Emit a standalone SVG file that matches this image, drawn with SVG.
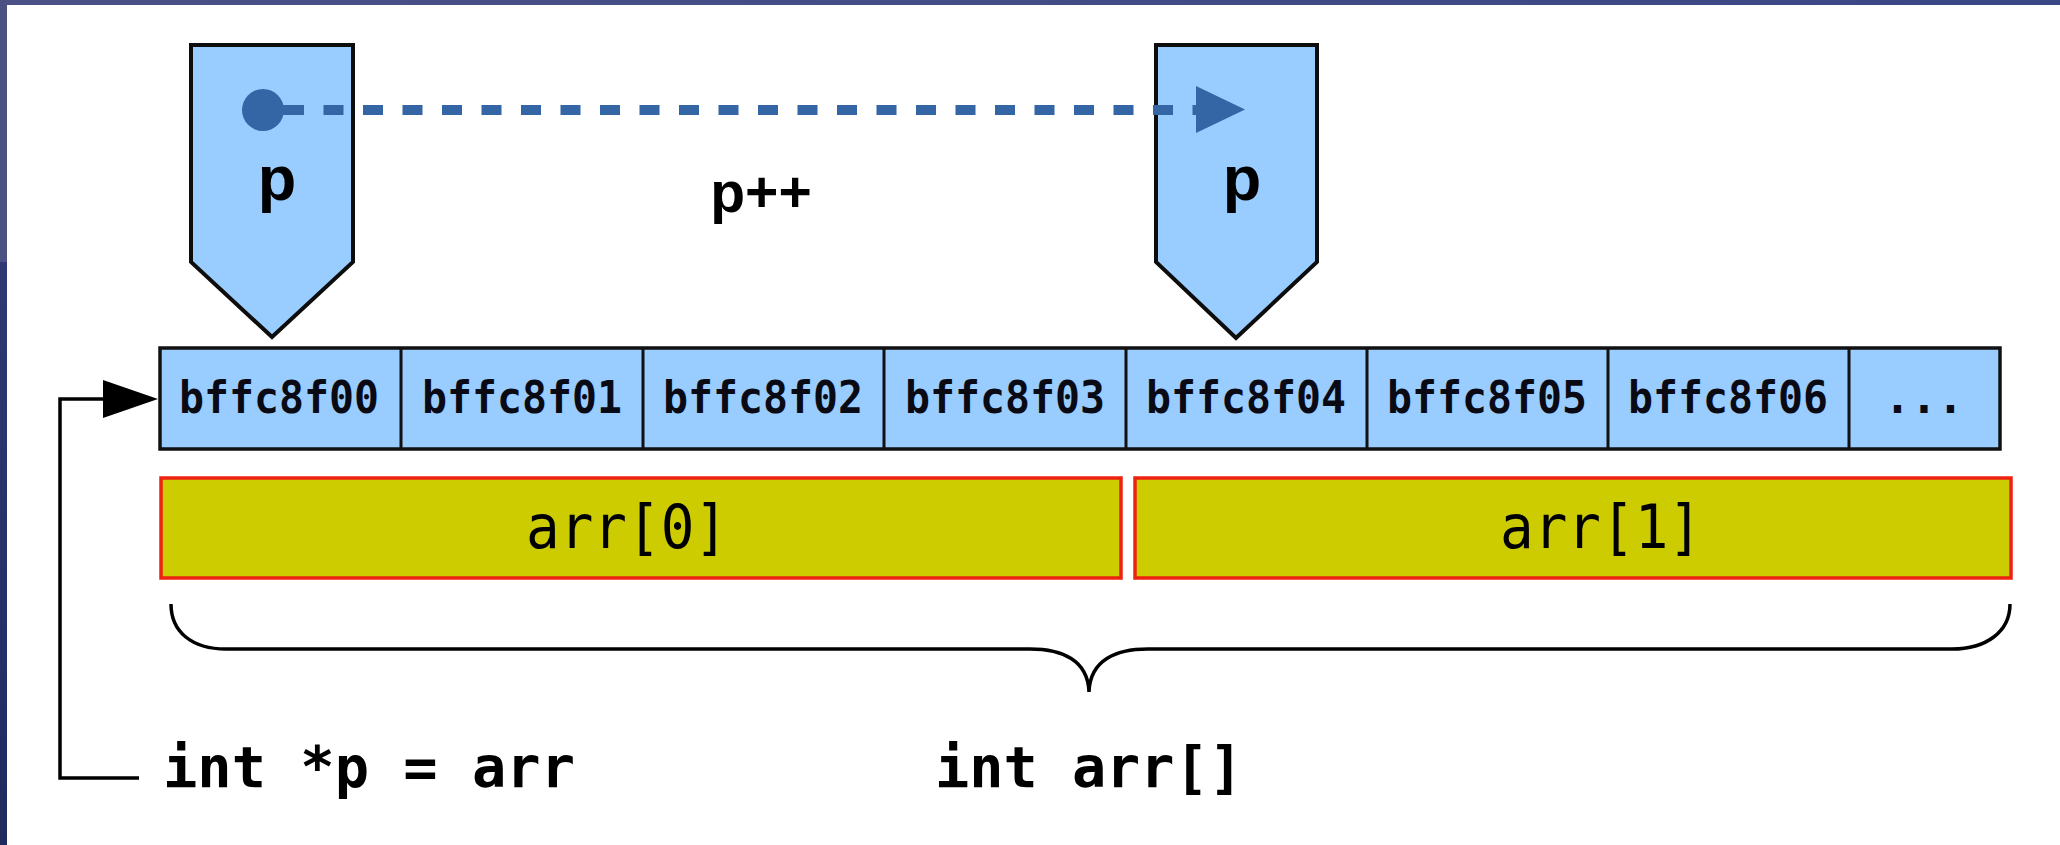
<svg xmlns="http://www.w3.org/2000/svg" width="2060" height="845" viewBox="0 0 2060 845">
  <defs>
    <linearGradient id="topStrip" x1="0" y1="0" x2="1" y2="0">
      <stop offset="0" stop-color="#4b5186"/>
      <stop offset="1" stop-color="#394785"/>
    </linearGradient>
    <linearGradient id="leftLow" x1="0" y1="0" x2="0" y2="1">
      <stop offset="0" stop-color="#2e3873"/>
      <stop offset="1" stop-color="#212a5f"/>
    </linearGradient>
    <marker id="blueHead" markerUnits="userSpaceOnUse" markerWidth="50" markerHeight="50" refX="0" refY="24" orient="auto" viewBox="0 0 50 48">
      <polygon points="0,0 49,23.5 0,47" fill="#3465a4"/>
    </marker>
    <marker id="blackHead" markerUnits="userSpaceOnUse" markerWidth="56" markerHeight="40" refX="0" refY="19" orient="auto" viewBox="0 0 56 38">
      <polygon points="0,0 55,19 0,38" fill="#000"/>
    </marker>
  </defs>
  <style>
    .ptr { fill: #99ccff; stroke: #0d0d0d; stroke-width: 4; stroke-linejoin: miter; }
    .ptrText { font-family: "Liberation Sans", Arial, sans-serif; font-weight: bold; fill: #000; text-anchor: middle; }
    .row { fill: #99ccff; stroke: #111; stroke-width: 3.5; }
    .div { stroke: #111; stroke-width: 3; }
    .addr { font-family: "DejaVu Sans Mono", monospace; font-weight: bold; font-size: 44px; fill: #0a0a14; text-anchor: middle; }
    .elem { fill: #cccc00; stroke: #ee2211; stroke-width: 3.5; }
    .elemText { font-family: "DejaVu Sans Mono", monospace; font-size: 60px; fill: #000; text-anchor: middle; }
    .code { font-family: "DejaVu Sans Mono", monospace; font-weight: bold; font-size: 57px; fill: #000; }
    .line { fill: none; stroke: #000; stroke-width: 3.5; }
  </style>

  <!-- slide background -->
  <rect x="0" y="0" width="2060" height="845" fill="#ffffff"/>
  <rect x="0" y="0" width="2060" height="5" fill="url(#topStrip)"/>
  <rect x="0" y="0" width="7" height="262" fill="#4c5183"/>
  <rect x="0" y="262" width="7" height="583" fill="url(#leftLow)"/>

  <!-- pointer p (before) -->
  <g id="pointer-p-old">
    <polygon class="ptr" points="191,45 353,45 353,262 272,337 191,262"/>
    <text class="ptrText" x="277" y="200" font-size="63">p</text>
  </g>

  <!-- pointer p (after) -->
  <g id="pointer-p-new">
    <polygon class="ptr" points="1156,45 1317,45 1317,262 1236,338 1156,262"/>
    <text class="ptrText" x="1242" y="200" font-size="63">p</text>
  </g>

  <!-- memory cells -->
  <g id="memory-row">
    <rect class="row" x="160" y="348" width="1840" height="101"/>
    <line class="div" x1="401" y1="348" x2="401" y2="449"/>
    <line class="div" x1="643" y1="348" x2="643" y2="449"/>
    <line class="div" x1="884" y1="348" x2="884" y2="449"/>
    <line class="div" x1="1126" y1="348" x2="1126" y2="449"/>
    <line class="div" x1="1367" y1="348" x2="1367" y2="449"/>
    <line class="div" x1="1608" y1="348" x2="1608" y2="449"/>
    <line class="div" x1="1849" y1="348" x2="1849" y2="449"/>
    <text class="addr" x="279" y="413" textLength="200" lengthAdjust="spacingAndGlyphs">bffc8f00</text>
    <text class="addr" x="522" y="413" textLength="200" lengthAdjust="spacingAndGlyphs">bffc8f01</text>
    <text class="addr" x="763" y="413" textLength="200" lengthAdjust="spacingAndGlyphs">bffc8f02</text>
    <text class="addr" x="1005" y="413" textLength="200" lengthAdjust="spacingAndGlyphs">bffc8f03</text>
    <text class="addr" x="1246" y="413" textLength="200" lengthAdjust="spacingAndGlyphs">bffc8f04</text>
    <text class="addr" x="1487" y="413" textLength="200" lengthAdjust="spacingAndGlyphs">bffc8f05</text>
    <text class="addr" x="1728" y="413" textLength="200" lengthAdjust="spacingAndGlyphs">bffc8f06</text>
    <text class="addr" x="1924" y="413">...</text>
  </g>

  <!-- array elements -->
  <g id="arr0">
    <rect class="elem" x="161" y="478" width="960" height="100"/>
    <text class="elemText" x="627" y="548" textLength="202" lengthAdjust="spacingAndGlyphs">arr[0]</text>
  </g>
  <g id="arr1">
    <rect class="elem" x="1135" y="478" width="876" height="100"/>
    <text class="elemText" x="1601" y="548" textLength="202" lengthAdjust="spacingAndGlyphs">arr[1]</text>
  </g>

  <!-- brace -->
  <g id="brace">
    <path class="line" stroke-width="4" d="M171 604 C171 632 192 649 226 649 L1030 649 C1062 649 1088 660 1089 692 C1090 660 1116 649 1148 649 L1952 649 C1986 649 2010 632 2010 604"/>
  </g>

  <!-- labels -->
  <g id="label-pinc">
    <text class="ptrText" x="761" y="212" font-size="57">p++</text>
  </g>
  <g id="label-ptr-decl">
    <text class="code" x="163" y="787" textLength="412" lengthAdjust="spacingAndGlyphs">int *p = arr</text>
  </g>
  <g id="label-arr-decl">
    <text class="code" x="935" y="787" textLength="308" lengthAdjust="spacingAndGlyphs">int arr[]</text>
  </g>

  <!-- connectors -->
  <g id="connectors">
    <circle cx="263" cy="110" r="21" fill="#3465a4"/>
    <line x1="263" y1="110" x2="284" y2="110" stroke="#3465a4" stroke-width="10"/>
    <line x1="284" y1="110" x2="1196" y2="110" stroke="#3465a4" stroke-width="10" stroke-dasharray="20 19.5" marker-end="url(#blueHead)"/>
    <path class="line" d="M139 778 H60 V399 H103" marker-end="url(#blackHead)"/>
  </g>
</svg>
